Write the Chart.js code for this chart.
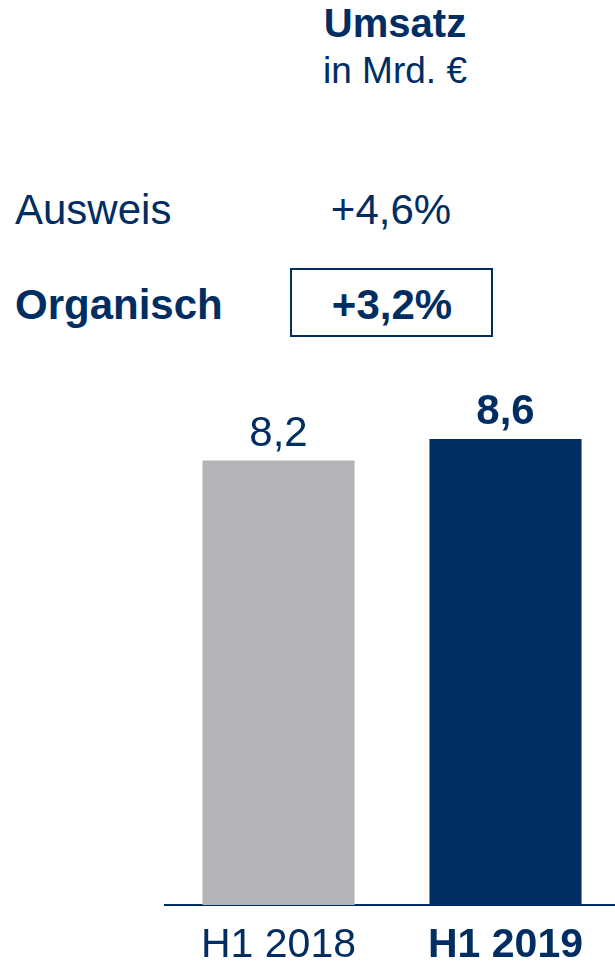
<!DOCTYPE html>
<html>
<head>
<meta charset="utf-8">
<script src="https://cdn.jsdelivr.net/npm/chart.js@4"></script>
<style>
body{margin:0;width:615px;height:966px;overflow:hidden;background:#fff;font-family:"Liberation Sans",Arial,sans-serif;color:#002D62;}
.t{position:absolute;line-height:1;white-space:nowrap;}
.c{transform:translateX(-50%);}
#wrap{position:absolute;left:0;top:0;width:619px;height:966px;}
#box{position:absolute;left:290px;top:268px;width:199px;height:65px;border:2px solid #002D62;}
</style>
</head>
<body>

<div class="t c" style="left:395px;top:3px;font-size:40px;font-weight:bold;">Umsatz</div>
<div class="t c" style="left:395px;top:52px;font-size:37px;">in Mrd. €</div>

<div class="t" style="left:15px;top:189px;font-size:42px;">Ausweis</div>
<div class="t c" style="left:391px;top:189px;font-size:42px;">+4,6%</div>

<div id="box"></div>
<div class="t" style="left:15px;top:284px;font-size:42px;font-weight:bold;">Organisch</div>
<div class="t c" style="left:392px;top:284px;font-size:42px;font-weight:bold;">+3,2%</div>

<div id="wrap"><canvas id="umsatzChart"></canvas></div>

<script>
/* ============================= */
/* DATA */
/* ============================= */

const periods = ["H1 2018","H1 2019"]
const umsatz = [8.2, 8.6]
const barColors = ["#B4B4B8","#002D62"]
const boldIndex = 1

const navy = "#002D62"
const fontFamily = "'Liberation Sans', Arial, sans-serif"

/* ============================= */
/* VALUE LABELS */
/* ============================= */

const valueLabels = {
id:"valueLabels",
afterDatasetsDraw(chart){
const ctx = chart.ctx
const meta = chart.getDatasetMeta(0)
ctx.save()
ctx.fillStyle = navy
ctx.textAlign = "center"
ctx.textBaseline = "alphabetic"
meta.data.forEach((bar,i)=>{
ctx.font = (i===boldIndex ? "bold " : "") + "42px " + fontFamily
ctx.fillText(umsatz[i].toFixed(1).replace(".",","), bar.x, bar.y-15)
})
ctx.restore()
}
}

/* ============================= */
/* CHART */
/* ============================= */

new Chart(
document.getElementById("umsatzChart"),
{
type:"bar",

data:{
labels:periods,
datasets:[
{
data:umsatz,
backgroundColor:barColors,
barPercentage:0.67,
categoryPercentage:1
}
]
},

options:{
animation:false,
responsive:true,
maintainAspectRatio:false,
layout:{
padding:{top:363,left:165,right:0,bottom:0}
},
plugins:{
legend:{display:false},
tooltip:{enabled:false}
},
scales:{
y:{
display:false,
min:0,
max:10
},
x:{
grid:{display:false,drawTicks:false},
border:{display:true,color:navy,width:2},
afterFit(scale){ scale.height = 61 },
ticks:{
color:navy,
padding:16,
font:(c)=>({family:fontFamily,size:41,weight:c.index===boldIndex?"bold":"normal"})
}
}
}
},
plugins:[valueLabels]
});
</script>
</body>
</html>
